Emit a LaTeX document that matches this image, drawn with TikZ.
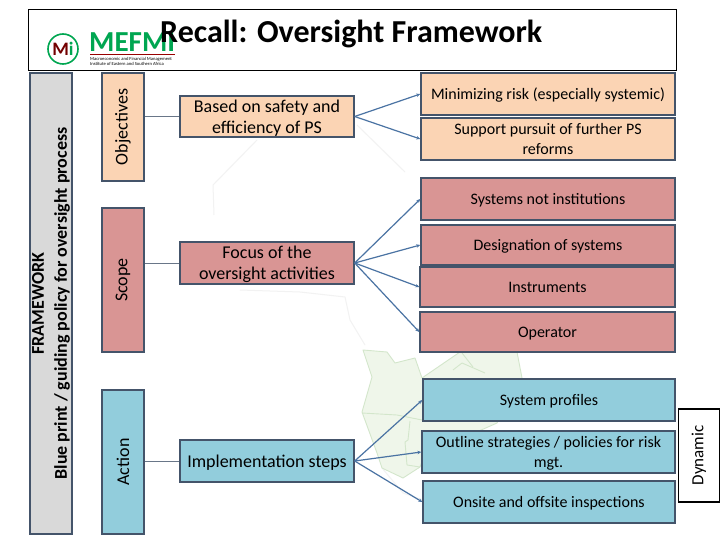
\documentclass[tikz,border=0pt]{standalone}
\usepackage{fontspec}
\setmainfont{Carlito}
\usetikzlibrary{arrows.meta, positioning, calc}
\definecolor{peach}{HTML}{FBD4B4}
\definecolor{rose}{HTML}{D99594}
\definecolor{sky}{HTML}{92CDDC}
\definecolor{barGray}{HTML}{D9D9D9}
\definecolor{edgeBlue}{HTML}{44546A}
\definecolor{linkBlue}{HTML}{4A73A3}
\definecolor{logoGreen}{HTML}{00A651}
\definecolor{mapGreen}{HTML}{EFF6EA}
\definecolor{mapLine}{HTML}{D3E6CB}

\begin{document}
\begin{tikzpicture}[x=1pt, y=-1pt, >={Stealth[length=4pt,width=3.5pt]},
    box/.style={rectangle, draw=edgeBlue, line width=1.4pt, inner sep=1pt, align=center, font=\fontsize{16}{19.5}\selectfont},
    sidebox/.style={box, text depth=0pt},
    midbox/.style={box, text depth=0pt, minimum width=174pt, font=\fontsize{18}{21}\selectfont},
    upbox/.style={box, rotate=90, font=\fontsize{18}{21}\selectfont},
    link/.style={->, draw=linkBlue, line width=1.2pt},
    stem/.style={draw=edgeBlue!80, line width=0.6pt}]

\useasboundingbox (0,0) rectangle (720,540);
\fill[white] (0,0) rectangle (720,540);

% faint map behind the boxes
\draw[black!5, line width=1pt, line join=round] (345,297) -- (350,320) -- (365,345);
\draw[black!5, line width=1pt, line join=round] (240,290) -- (300,292) -- (345,297);
\draw[black!5, line width=1pt, line join=round] (214,215) -- (213,185) -- (257,140);
\draw[black!5, line width=1pt, line join=round] (357,125) -- (405,172);
\draw[black!5, line width=1pt, line join=round] (382,468) -- (403,493) -- (423,500);
\filldraw[fill=mapGreen, draw=mapLine, line width=0.9pt, line join=round] (363,350) -- (387,352) -- (395,363) -- (415,358) -- (422,378) -- (460,352) -- (517,352) -- (522,378) -- (497,423) -- (470,435) -- (430,440) -- (420,467) -- (403,478) -- (382,468) -- (377,453) -- (362,412) -- (372,377) -- cycle;
\draw[mapLine, line width=0.9pt, line join=round] (362,413) -- (397,415) -- (422,420);
\draw[mapLine, line width=0.9pt, line join=round] (410,421) -- (408,440) -- (405,442) -- (407,465) -- (420,467);
\draw[mapLine, line width=0.9pt, line join=round] (453,370) -- (462,363) -- (485,373);
\draw[mapLine, line width=0.9pt, line join=round] (462,353) -- (473,367);

% heading and logo
\node[draw=black, line width=0.8pt, minimum width=648pt, minimum height=61pt, inner sep=0pt, anchor=north west] (head) at (27.5,9.5) {};
\node[draw=logoGreen, line width=1.6pt, circle, minimum size=30pt, inner sep=0pt] (ring) at (63,49) {};
\node[font=\bfseries\fontsize{19}{19}\selectfont, text=logoGreen, inner sep=0pt] (mark) at (63,49) {{\color{red!45!black}M}i};
\node[font=\bfseries\fontsize{29}{29}\selectfont, text=logoGreen, inner sep=0pt, anchor=west] (brand) at (89,42) {MEFMI};
\coordinate (ruleL) at (90,54.5);
\coordinate (ruleR) at (175,54.5);
\draw[red!60!black, line width=0.5pt] (ruleL) -- (ruleR);
\node[font=\fontsize{4.6}{5}\selectfont, inner sep=0pt, anchor=north west, align=left] (sub) at (90,57) {Macroeconomic and Financial Management\\Institute of Eastern and Southern Africa};
\node[font=\bfseries\fontsize{32}{32}\selectfont, inner sep=0pt, anchor=west] (title) at (160,33.5) {Recall: Oversight Framework};

% left columns
\node[upbox, fill=barGray, minimum width=461pt, minimum height=42pt, font=\bfseries\fontsize{18}{23}\selectfont] (frame) at (51,303.5) {FRAMEWORK\\Blue print / guiding policy for oversight process};
\node[upbox, fill=peach, minimum width=108pt, minimum height=42pt] (objectives) at (123,127) {Objectives};
\node[upbox, fill=rose, minimum width=144pt, minimum height=42pt] (scope) at (123,280) {Scope};
\node[upbox, fill=sky, minimum width=144pt, minimum height=42pt] (action) at (123,462) {Action};

% middle boxes
\node[midbox, fill=peach, minimum height=41pt] (based) at (267,116.5) {Based on safety and\\efficiency of PS};
\node[midbox, fill=rose, minimum height=42pt] (focus) at (267,263) {Focus of the\\oversight activities};
\node[midbox, fill=sky, minimum height=42pt] (steps) at (267,461) {Implementation steps};

% right boxes
\node[sidebox, fill=peach, minimum width=254pt, minimum height=42pt] (risk) at (548,94) {Minimizing risk (especially systemic)};
\node[sidebox, fill=peach, minimum width=254pt, minimum height=42pt] (reforms) at (548,139) {Support pursuit of further PS\\reforms};
\node[sidebox, fill=rose, minimum width=254pt, minimum height=42pt] (institutions) at (548,199) {Systems not institutions};
\node[sidebox, fill=rose, minimum width=254pt, minimum height=40pt] (designation) at (548,245) {Designation of systems};
\node[sidebox, fill=rose, minimum width=255pt, minimum height=40pt] (instruments) at (547.5,287) {Instruments};
\node[sidebox, fill=rose, minimum width=255pt, minimum height=40pt] (operator) at (547.5,332) {Operator};
\node[sidebox, fill=sky, minimum width=252pt, minimum height=42pt] (profiles) at (549,400) {System profiles};
\node[sidebox, fill=sky, minimum width=253pt, minimum height=42pt] (outline) at (548.5,452) {Outline strategies / policies for risk\\mgt.};
\node[sidebox, fill=sky, minimum width=252pt, minimum height=42pt] (onsite) at (549,502) {Onsite and offsite inspections};

\node[upbox, draw=black, fill=white, minimum width=93pt, minimum height=41pt, font=\fontsize{17}{20}\selectfont] (dynamic) at (699,455.5) {Dynamic};

% connectors
\draw[stem] (objectives.south |- based.west) -- (based.west);
\draw[stem] (scope.south |- focus.west) -- (focus.west);
\draw[stem] (action.south |- steps.west) -- (steps.west);

\draw[link] (based.east) -- (risk.west);
\draw[link] (based.east) -- (reforms.west);
\draw[link] (focus.east) -- (institutions.west);
\draw[link] (focus.east) -- (designation.west);
\draw[link] (focus.east) -- (instruments.west);
\draw[link] (focus.east) -- (operator.west);
\draw[link] (steps.east) -- (profiles.west);
\draw[link] (steps.east) -- (outline.west);
\draw[link] (steps.east) -- (onsite.west);

\end{tikzpicture}
\end{document}
